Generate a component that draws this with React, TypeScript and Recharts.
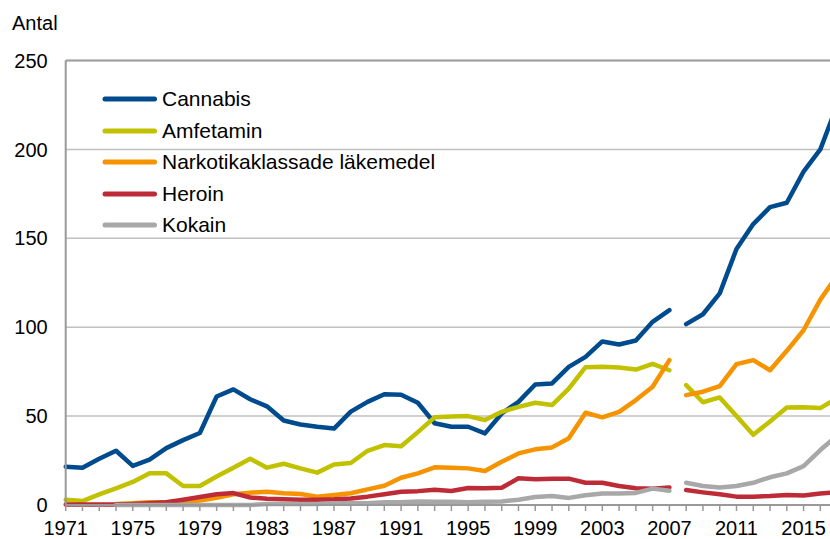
import { LineChart, Line, XAxis, YAxis, CartesianGrid, Legend, ReferenceLine } from "recharts";

// år 1971–2017 (sista året ligger utanför bilden)
const years = [
  1971, 1972, 1973, 1974, 1975, 1976, 1977, 1978, 1979, 1980,
  1981, 1982, 1983, 1984, 1985, 1986, 1987, 1988, 1989, 1990,
  1991, 1992, 1993, 1994, 1995, 1996, 1997, 1998, 1999, 2000,
  2001, 2002, 2003, 2004, 2005, 2006, 2007, 2008, 2009, 2010,
  2011, 2012, 2013, 2014, 2015, 2016, 2017,
];

// serien bryts mellan 2007 och 2008
const breakYear = 2008;

const cannabis = [
  21.5, 21, 26, 30.5, 22, 25.5, 32, 36.5, 40.5, 61,
  65, 59.5, 55.5, 47.5, 45.3, 44, 43, 52.5, 58, 62.3,
  62, 57.5, 46, 44, 44, 40.3, 51.5, 58, 67.8, 68.4,
  77.7, 83.3, 92, 90.3, 92.5, 103, 109.6, 101.7, 107.3, 119,
  144, 158, 167.5, 170, 187.5, 200, 225,
];

const amfetamin = [
  3, 2.2, 6, 9.4, 13, 17.8, 17.8, 10.7, 10.7, 16,
  21, 26, 21, 23.2, 20.6, 18.2, 22.8, 23.6, 30.5, 33.7,
  33, 41, 49.3, 49.8, 50, 47.8, 52.4, 55.2, 57.5, 56.2,
  65.5, 77.5, 77.7, 77.3, 76.2, 79.4, 75.8, 67.4, 57.8, 60.5,
  50, 39.5, 47, 54.8, 55, 54.5, 60,
];

const lakemedel = [
  null, null, null, 0.5, 1, 1.5, 1.5, 2, 2.5, 4,
  6, 6.9, 7.5, 6.6, 6.2, 4.7, 5.6, 6.6, 8.8, 10.8,
  15.3, 17.8, 21.2, 21, 20.6, 19.1, 24.3, 29, 31.3, 32.4,
  37.5, 51.9, 49.3, 52.4, 59, 66.5, 81.5, 61.8, 63.7, 66.9,
  79.2, 81.5, 75.8, 86.7, 98.3, 115.5, 129,
];

const heroin = [
  0.3, 0.3, 0.3, 0.3, 0.5, 1, 1.5, 3, 4.5, 6,
  6.7, 4.2, 3.5, 3.3, 3, 3, 3.2, 3.7, 4.7, 6,
  7.5, 7.8, 8.6, 7.9, 9.6, 9.4, 9.7, 15, 14.5, 14.8,
  14.8, 12.5, 12.5, 10.7, 9.4, 9.2, 9.9, 8.4, 7.1, 6,
  4.7, 4.7, 5, 5.6, 5.4, 6.5, 7.2,
];

const kokain = [
  null, null, null, 0, 0, 0, 0, 0, 0, 0,
  0, 0, 0.5, 0.5, 0.5, 0.5, 1, 1, 1, 1.5,
  1.5, 2, 1.8, 1.8, 1.5, 1.8, 2, 3, 4.5, 5,
  4, 5.5, 6.5, 6.5, 6.8, 9.2, 8, 12.5, 10.7, 9.9,
  10.7, 12.5, 15.6, 17.8, 21.9, 30.9, 39,
];

const labelYears = [1971, 1975, 1979, 1983, 1987, 1991, 1995, 1999, 2003, 2007, 2011, 2015];
const yTicks = [0, 50, 100, 150, 200, 250];

const SERIES = [
  { key: "cannabis", name: "Cannabis", color: "#004B8D", values: cannabis },
  { key: "amfetamin", name: "Amfetamin", color: "#C1C100", values: amfetamin },
  { key: "lakemedel", name: "Narkotikaklassade läkemedel", color: "#F59300", values: lakemedel },
  { key: "heroin", name: "Heroin", color: "#BD2C36", values: heroin },
  { key: "kokain", name: "Kokain", color: "#A8A8A8", values: kokain },
];

const FONT = "'Liberation Sans', Arial, sans-serif";

const data = years.map((year, i) => {
  const row: Record<string, number | null> = { year };
  SERIES.forEach(s => {
    const v = s.values[i];
    row[s.key + "_a"] = year < breakYear ? v : null;
    row[s.key + "_b"] = year >= breakYear ? v : null;
  });
  return row;
});

function LegendBox() {
  return (
    <div style={{ fontFamily: FONT, fontSize: 21, color: "#000" }}>
      {SERIES.map(s => (
        <div key={s.key} style={{ display: "flex", alignItems: "center", height: 31.5 }}>
          <svg width={62} height={10} style={{ display: "block" }}>
            <line x1={5} y1={5} x2={54.5} y2={5} stroke={s.color} strokeWidth={5} strokeLinecap="round" />
          </svg>
          <span style={{ whiteSpace: "nowrap" }}>{s.name}</span>
        </div>
      ))}
    </div>
  );
}

export default function App() {
  return (
    <div style={{ position: "absolute", left: 0, top: 0, width: 830, height: 539, overflow: "hidden", background: "#fff" }}>
      <div style={{ position: "absolute", left: 12, top: 11.6, fontFamily: FONT, fontSize: 20, color: "#000" }}>
        Antal
      </div>
      <LineChart
        width={860}
        height={539}
        data={data}
        margin={{ top: 60.5, right: 22.9, bottom: 0, left: 0 }}
      >
        <CartesianGrid vertical={false} stroke="#C0C0C0" strokeWidth={1.5} />
        <ReferenceLine y={250} stroke="#A0A0A0" strokeWidth={2} />
        <XAxis
          dataKey="year"
          type="number"
          domain={[1971, 2017]}
          ticks={years}
          interval={0}
          tickFormatter={(v: number) => (labelYears.includes(v) ? String(v) : "")}
          height={34}
          tickSize={6}
          tickMargin={10}
          stroke="#999999"
          strokeWidth={2}
          tickLine={{ stroke: "#999999", strokeWidth: 1.5 }}
          tick={{ fill: "#000", fontSize: 20, fontFamily: FONT }}
        />
        <YAxis
          domain={[0, 250]}
          ticks={yTicks}
          width={65.7}
          tickLine={false}
          tickSize={0}
          tickMargin={18}
          stroke="#999999"
          strokeWidth={2}
          tick={{ fill: "#000", fontSize: 20, fontFamily: FONT }}
        />
        <Legend
          layout="vertical"
          align="center"
          verticalAlign="middle"
          content={() => <LegendBox />}
          wrapperStyle={{ left: 100, top: 83.5, width: 420, height: 160 }}
        />
        {SERIES.flatMap(s => [
          <Line
            key={s.key + "_a"}
            dataKey={s.key + "_a"}
            name={s.name}
            stroke={s.color}
            strokeWidth={4.5}
            strokeLinejoin="round"
            strokeLinecap="round"
            dot={false}
            activeDot={false}
            legendType="none"
            isAnimationActive={false}
          />,
          <Line
            key={s.key + "_b"}
            dataKey={s.key + "_b"}
            name={s.name}
            stroke={s.color}
            strokeWidth={4.5}
            strokeLinejoin="round"
            strokeLinecap="round"
            dot={false}
            activeDot={false}
            legendType="none"
            isAnimationActive={false}
          />,
        ])}
      </LineChart>
    </div>
  );
}
